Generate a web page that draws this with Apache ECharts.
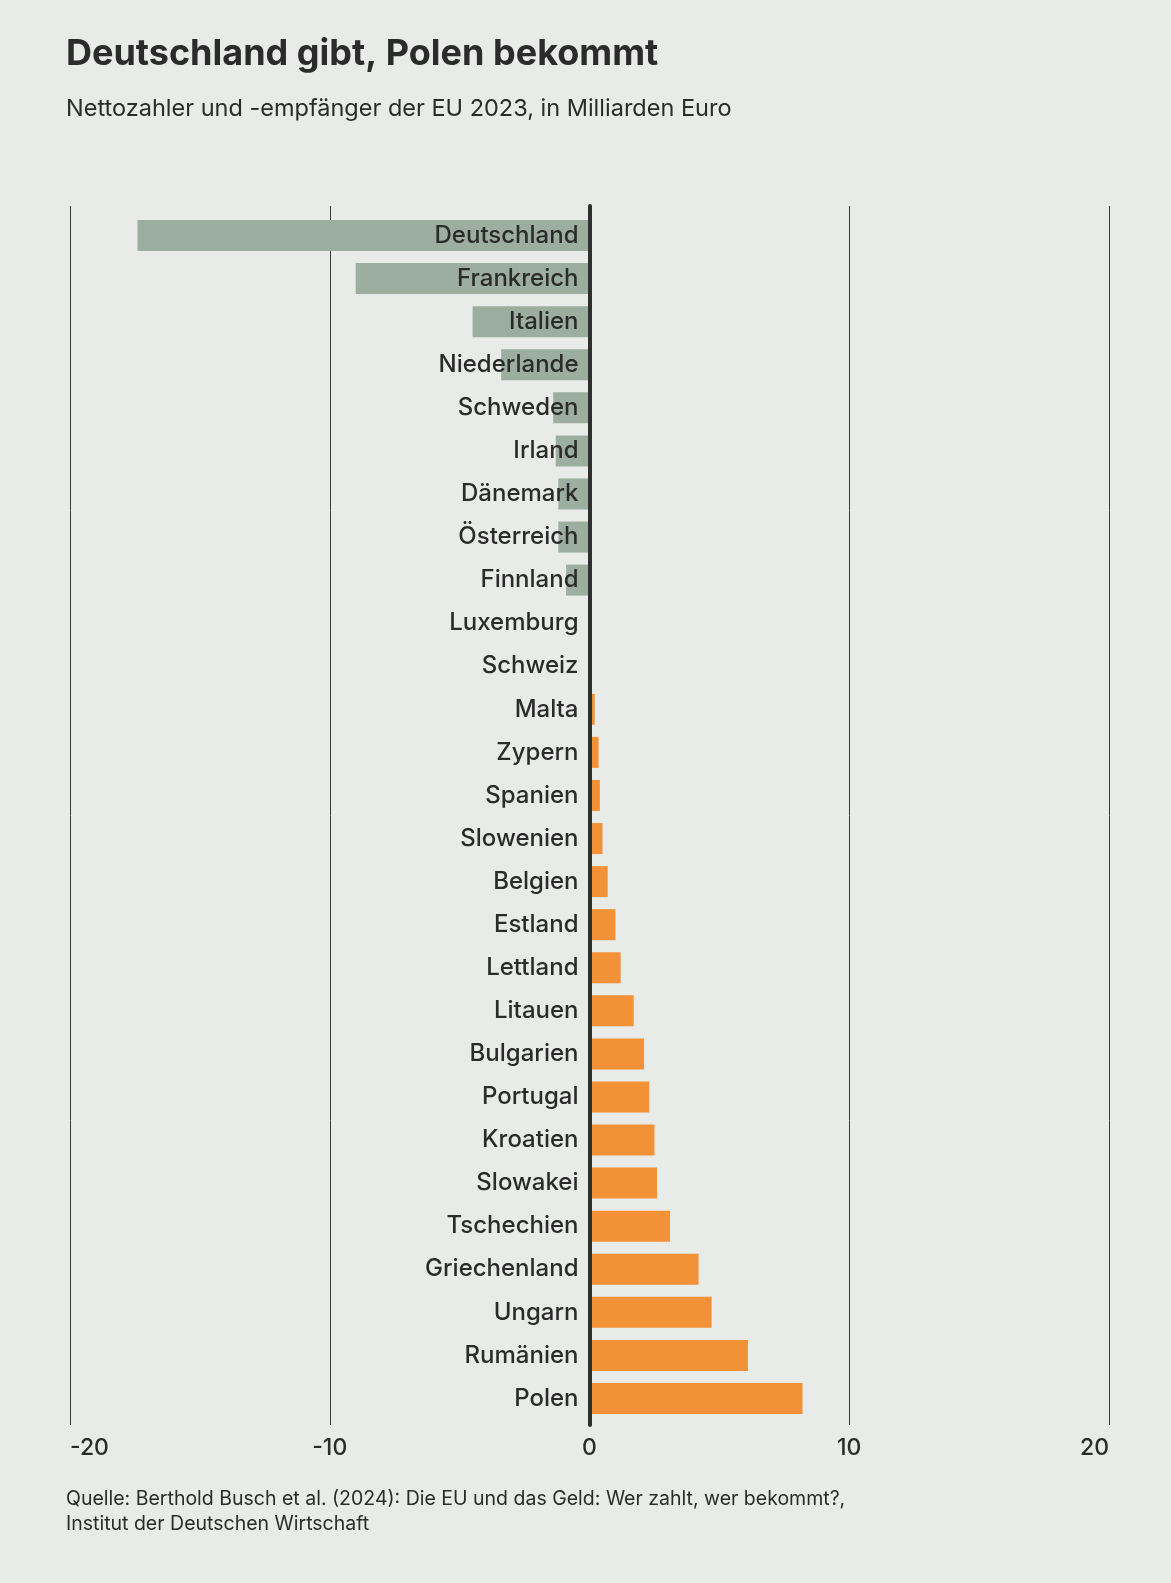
<!DOCTYPE html>
<html>
<head>
<meta charset="utf-8">
<script src="https://cdn.jsdelivr.net/npm/echarts@6/dist/echarts.min.js"></script>
<style>
  html, body { margin: 0; padding: 0; background: #e8ebe8; }
  #main { width: 1171px; height: 1583px; }
</style>
</head>
<body>
<div id="main"></div>
<script>
// Länder, von oben nach unten
var countries = ['Deutschland', 'Frankreich', 'Italien', 'Niederlande', 'Schweden', 'Irland',
  'Dänemark', 'Österreich', 'Finnland', 'Luxemburg', 'Schweiz', 'Malta', 'Zypern', 'Spanien',
  'Slowenien', 'Belgien', 'Estland', 'Lettland', 'Litauen', 'Bulgarien', 'Portugal', 'Kroatien',
  'Slowakei', 'Tschechien', 'Griechenland', 'Ungarn', 'Rumänien', 'Polen'];
// Nettosaldo 2023, Mrd. Euro
var netBalance = [-17.4, -9.0, -4.5, -3.4, -1.4, -1.3, -1.2, -1.2, -0.9, 0, 0, 0.2, 0.35, 0.4,
  0.5, 0.7, 1.0, 1.2, 1.7, 2.1, 2.3, 2.5, 2.6, 3.1, 4.2, 4.7, 6.1, 8.2];
var axisTicks = [-20, -10, 0, 10, 20];

var font = 'Inter';
var ink = '#2b2b2b';
var W = 1171, gridLeft = 70, gridRight = 62;
var xMin = axisTicks[0], xMax = axisTicks[axisTicks.length - 1];
// Ländernamen rechtsbündig an der Nulllinie
var zeroOffset = (W - gridLeft - gridRight) * (0 - xMin) / (xMax - xMin);

var myChart = echarts.init(document.getElementById('main'));
var option = {
  backgroundColor: '#e8ebe8',
  animation: false,
  textStyle: { fontFamily: font },
  grid: [
    // Hilfslinien + Nullachse
    { left: gridLeft, right: gridRight, top: 206, bottom: 158, outerBoundsMode: 'none', containLabel: false },
    // Balken
    { left: gridLeft, right: gridRight, top: 214, bottom: 163, outerBoundsMode: 'none', containLabel: false }
  ],
  xAxis: [{
    gridIndex: 0,
    type: 'value',
    min: xMin,
    max: xMax,
    interval: 10,
    axisLine: { show: false },
    axisTick: { show: false },
    splitLine: { show: true, lineStyle: { color: '#3a3a3a', width: 1 } },
    axisLabel: {
      color: ink, fontSize: 23, fontFamily: font, fontWeight: 500, margin: 12,
      alignMinLabel: 'left', alignMaxLabel: 'right'
    },
    z: 0
  }, {
    gridIndex: 1,
    type: 'value',
    min: xMin,
    max: xMax,
    axisLine: { show: false },
    axisTick: { show: false },
    axisLabel: { show: false },
    splitLine: { show: false }
  }],
  yAxis: [{
    gridIndex: 0,
    type: 'value',
    min: 0, max: 1,
    axisLine: { show: true, onZero: true, lineStyle: { color: '#2f2f2f', width: 4 } },
    axisTick: { show: false },
    axisLabel: { show: false },
    splitLine: { show: false },
    z: 5
  }, {
    gridIndex: 1,
    type: 'category',
    data: countries,
    inverse: true,
    position: 'left',
    offset: -zeroOffset,
    axisLine: { show: false, onZero: false },
    axisTick: { show: false },
    splitLine: { show: false },
    axisLabel: {
      color: ink, fontSize: 24, fontFamily: font, fontWeight: 500, margin: 11,
      padding: [5, 0, 0, 0]
    },
    z: 10
  }],
  series: [{
    type: 'bar',
    xAxisIndex: 1,
    yAxisIndex: 1,
    barWidth: 31,
    data: netBalance,
    itemStyle: {
      color: function (p) { return p.value < 0 ? '#9cae9f' : '#f39136'; }
    }
  }],
  graphic: [{
    type: 'text', left: 66, top: 36,
    style: { text: 'Deutschland gibt, Polen bekommt', fill: ink, font: 'bold 36px ' + font }
  }, {
    type: 'text', left: 66, top: 97,
    style: { text: 'Nettozahler und -empfänger der EU 2023, in Milliarden Euro', fill: ink, font: '23.5px ' + font }
  }, {
    type: 'text', left: 66, top: 1487,
    style: {
      text: 'Quelle: Berthold Busch et al. (2024): Die EU und das Geld: Wer zahlt, wer bekommt?,\nInstitut der Deutschen Wirtschaft',
      fill: ink, font: '19.5px ' + font, lineHeight: 25
    }
  }]
};
myChart.setOption(option);
</script>
</body>
</html>
